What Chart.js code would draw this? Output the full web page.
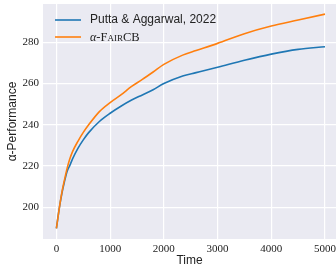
<!DOCTYPE html>
<html lang="en">
<head>
    <meta charset="UTF-8">
    <title>alpha-Performance over Time</title>
    <script src="https://cdn.jsdelivr.net/npm/chart.js"></script>
    <style>
        body { margin: 0; background: #fff; }
        #wrap { width: 336px; height: 267px; }
    </style>
</head>
<body>
    <div id="wrap"><canvas id="perfChart" width="336" height="267"></canvas></div>

    <script>
        // values
        const times = [0, 50, 100, 150, 200, 250, 300, 400, 500, 600, 800, 1000, 1200, 1400, 1600, 1800, 2000, 2350, 2600, 3000, 3500, 4000, 4500, 5000];
        const puttaValues = [189.8, 199, 206.5, 212.5, 217.5, 220.3, 223.5, 228.6, 232.7, 236.2, 241.6, 245.6, 249, 252, 254.5, 257, 260, 263.7, 265.3, 267.9, 271.3, 274.3, 276.6, 277.9];
        const fairValues = [189.8, 199, 207, 213.3, 219, 223.5, 227, 232, 236.3, 240, 246.4, 250.8, 254.5, 258.6, 262, 265.6, 269.3, 273.8, 276, 279.5, 284.2, 287.9, 290.8, 293.7];
        const xTicks = [0, 1000, 2000, 3000, 4000, 5000];
        const yTicks = [200, 220, 240, 260, 280];
        const seriesNames = ['Putta & Aggarwal, 2022', 'α-FairCB'];
        const seriesColors = ['#1f77b4', '#ff7f0e'];

        const toPoints = vals => times.map((t, i) => ({ x: t, y: vals[i] }));

        // grey plot background like seaborn darkgrid
        const plotBg = {
            id: 'plotBg',
            beforeDraw(chart) {
                const { ctx, chartArea: a } = chart;
                ctx.save();
                ctx.fillStyle = '#eaeaf2';
                ctx.fillRect(a.left, a.top, a.right - a.left, a.bottom - a.top);
                ctx.restore();
            }
        };

        // legend drawn by hand so the second entry can use small caps
        const legendBox = {
            id: 'legendBox',
            afterDatasetsDraw(chart) {
                const ctx = chart.ctx;
                const rows = [20, 37];
                ctx.save();
                ctx.textBaseline = 'middle';
                ctx.fillStyle = '#222';
                rows.forEach((y, i) => {
                    ctx.strokeStyle = seriesColors[i];
                    ctx.lineWidth = 1.6;
                    ctx.beginPath();
                    ctx.moveTo(55, y);
                    ctx.lineTo(81, y);
                    ctx.stroke();
                });
                ctx.font = "12px 'Liberation Sans'";
                ctx.fillText(seriesNames[0], 90, rows[0]);
                ctx.font = "italic 12px 'Liberation Serif'";
                ctx.fillText('α', 90, rows[1] + 1);
                const w = ctx.measureText('α').width;
                ctx.font = "small-caps 12.5px 'Liberation Serif'";
                ctx.fillText('-FairCB', 90 + w, rows[1] + 1);
                ctx.restore();
            }
        };

        const ctx = document.getElementById('perfChart').getContext('2d');
        const perfChart = new Chart(ctx, {
            type: 'line',
            data: {
                datasets: [{
                    label: seriesNames[0],
                    data: toPoints(puttaValues),
                    borderColor: seriesColors[0],
                    borderWidth: 1.6,
                    pointRadius: 0,
                    cubicInterpolationMode: 'monotone',
                    order: 1
                }, {
                    label: seriesNames[1],
                    data: toPoints(fairValues),
                    borderColor: seriesColors[1],
                    borderWidth: 1.6,
                    pointRadius: 0,
                    cubicInterpolationMode: 'monotone',
                    order: 0
                }]
            },
            options: {
                responsive: false,
                animation: false,
                layout: { padding: { top: 4, right: 0, left: 0, bottom: 0 } },
                plugins: { legend: { display: false }, tooltip: { enabled: false } },
                scales: {
                    x: {
                        type: 'linear',
                        min: -250,
                        max: 5205,
                        afterBuildTicks: s => { s.ticks = xTicks.map(v => ({ value: v })); },
                        afterFit: s => { s.height = 28; s.paddingLeft = 0; s.paddingRight = 0; },
                        border: { display: false },
                        grid: { color: '#ffffff', lineWidth: 1.2, drawTicks: false },
                        ticks: {
                            color: '#222',
                            padding: 4,
                            maxRotation: 0,
                            font: { family: 'Liberation Serif', size: 11 },
                            callback: v => String(v)
                        },
                        title: {
                            display: true,
                            text: 'Time',
                            color: '#222',
                            padding: 0,
                            font: { family: 'Liberation Sans', size: 12, lineHeight: 1 }
                        }
                    },
                    y: {
                        min: 184.6,
                        max: 298.6,
                        afterBuildTicks: s => { s.ticks = yTicks.map(v => ({ value: v })); },
                        afterFit: s => { s.width = 43; s.paddingTop = 0; s.paddingBottom = 0; },
                        border: { display: false },
                        grid: { color: '#ffffff', lineWidth: 1.2, drawTicks: false },
                        ticks: {
                            color: '#222',
                            padding: 4,
                            font: { family: 'Liberation Serif', size: 11 },
                            callback: v => String(v)
                        },
                        title: {
                            display: true,
                            text: 'α-Performance',
                            color: '#222',
                            padding: { top: 7, bottom: 0 },
                            font: { family: 'Liberation Sans', size: 12, lineHeight: 1 }
                        }
                    }
                }
            },
            plugins: [plotBg, legendBox]
        });
    </script>
</body>
</html>
